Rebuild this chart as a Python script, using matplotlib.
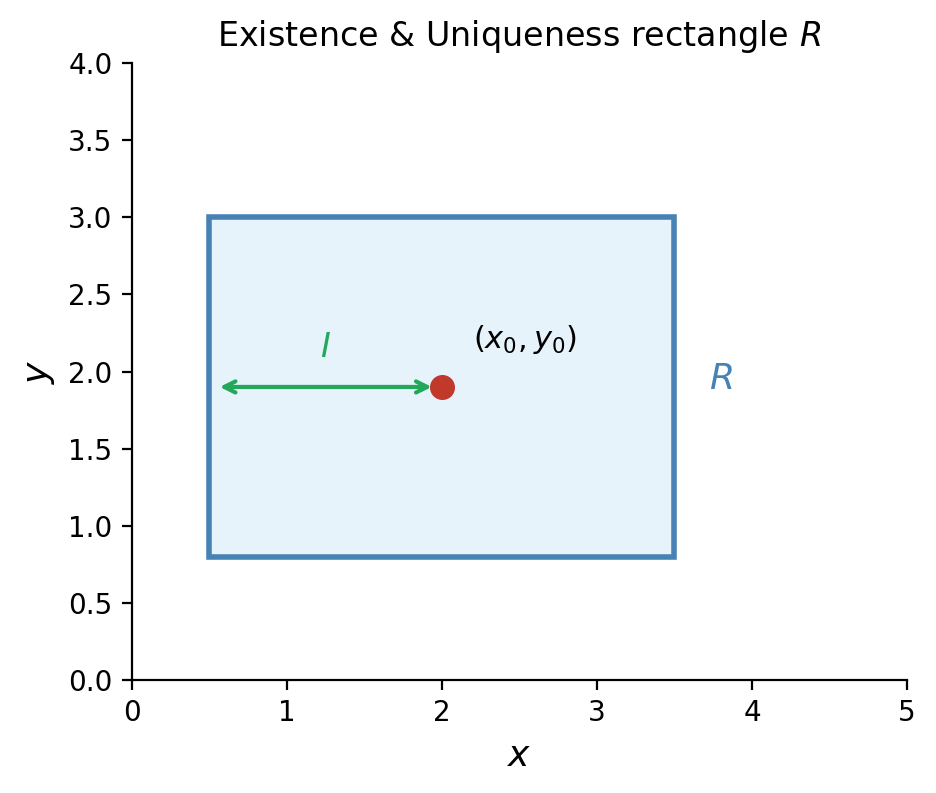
import matplotlib
matplotlib.use("Agg")
import matplotlib.pyplot as plt
from matplotlib.patches import Rectangle

rect_x = [0.5, 3.5]
rect_y = [0.8, 3.0]
point = (2.0, 1.9)
interval = [0.5, 2.0]

fig = plt.figure(figsize=(4.68, 3.965), dpi=200)
ax = fig.add_axes([0.141, 0.1425, 0.828, 0.778])
ax.add_patch(Rectangle((rect_x[0], rect_y[0]), rect_x[1]-rect_x[0], rect_y[1]-rect_y[0],
                       facecolor="#e7f3fb", edgecolor="#4682b4", linewidth=2))
ax.annotate("", xy=(interval[0]+0.03, point[1]), xytext=(point[0]-0.03, point[1]),
            arrowprops=dict(arrowstyle="<->", color="#22a85a", lw=1.5))
ax.plot(*point, "o", color="#c0392b", markersize=8, zorder=5)
ax.text(1.25, 2.05, "$I$", color="#22a85a", fontsize=12, ha="center", va="bottom")
ax.text(2.2, 2.1, "$(x_0, y_0)$", fontsize=11, ha="left", va="bottom")
ax.text(3.72, 1.95, "$R$", color="#4682b4", fontsize=13, ha="left", va="center")
ax.set_xlim(0, 5)
ax.set_ylim(0, 4)
ax.set_xticks([0, 1, 2, 3, 4, 5])
ax.set_yticks([0, 0.5, 1, 1.5, 2, 2.5, 3, 3.5, 4])
ax.set_yticklabels([f"{v:.1f}" for v in ax.get_yticks()])
ax.set_xlabel("$x$", fontsize=13)
ax.set_ylabel("$y$", fontsize=13)
ax.set_title("Existence & Uniqueness rectangle $R$", fontsize=12)
for s in ("top", "right"):
    ax.spines[s].set_visible(False)
fig.savefig("out.png", dpi=200)
